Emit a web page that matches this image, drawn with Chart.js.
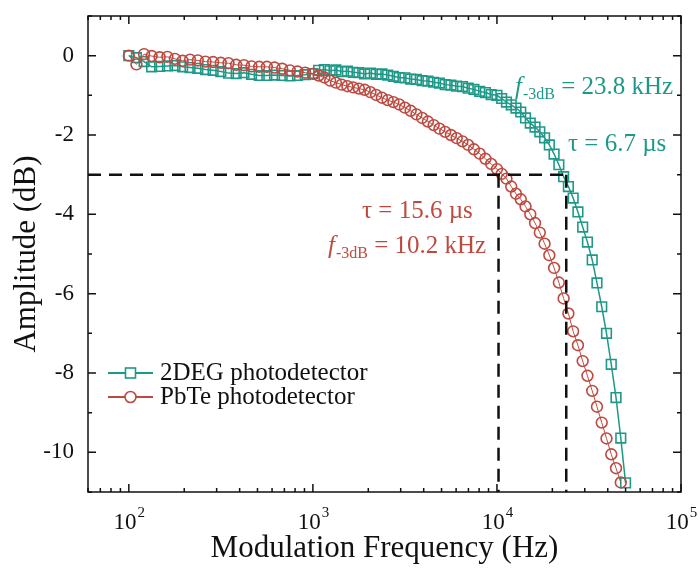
<!DOCTYPE html>
<html>
<head>
<meta charset="utf-8">
<script src="https://cdn.jsdelivr.net/npm/chart.js@4.4.1/dist/chart.umd.min.js"></script>
<style>
  html, body { margin: 0; padding: 0; background: #fff; }
  canvas { display: block; }
</style>
</head>
<body>
<canvas id="chart" width="700" height="568"></canvas>
<script>
// modulation frequencies (Hz), shared by both detectors
const freqHz = [
  100, 110, 121, 133, 147, 162, 178, 196, 215, 237, 261, 287, 316, 348, 383, 422, 464, 511, 562, 619, 681, 750, 825, 909,
  1000, 1075, 1155, 1241, 1334, 1433, 1540, 1655, 1778, 1911, 2054, 2207, 2371, 2548, 2738, 2943, 3162, 3398, 3652, 3924,
  4217, 4532, 4870, 5233, 5623, 6043, 6494, 6978, 7499, 8058, 8660, 9306,
  10000, 10614, 11266, 11958, 12692, 13471, 14298, 15176, 16108, 17097, 18147, 19261, 20444, 21699, 23031, 24445, 25946,
  27539, 29230, 31025, 32930, 34952, 37098, 39376, 41793, 44359, 47083, 49974
];

// amplitude (dB), 2DEG photodetector
const amp2DEG = [
  0.0, -0.05, -0.15, -0.28, -0.27, -0.26, -0.25, -0.28, -0.3, -0.32, -0.35, -0.37, -0.4, -0.44, -0.45, -0.43, -0.47, -0.5,
  -0.5, -0.49, -0.5, -0.51, -0.5, -0.48,
  -0.45, -0.37, -0.35, -0.38, -0.36, -0.4, -0.39, -0.42, -0.43, -0.46, -0.44, -0.47, -0.46, -0.49, -0.52, -0.55, -0.56,
  -0.59, -0.6, -0.63, -0.64, -0.67, -0.69, -0.73, -0.74, -0.77, -0.78, -0.82, -0.85, -0.9, -0.93, -0.98,
  -1.0, -1.08, -1.17, -1.24, -1.32, -1.42, -1.57, -1.7, -1.8, -1.92, -2.07, -2.25, -2.48, -2.75, -3.05, -3.3, -3.59,
  -3.94, -4.32, -4.7, -5.15, -5.73, -6.33, -7.0, -7.78, -8.62, -9.64, -10.77
];

// amplitude (dB), PbTe photodetector (one point shorter)
const ampPbTe = [
  0.0, -0.22, 0.04, -0.01, -0.04, -0.03, -0.08, -0.13, -0.1, -0.12, -0.15, -0.16, -0.18, -0.19, -0.23, -0.24, -0.27, -0.28,
  -0.28, -0.3, -0.33, -0.37, -0.4, -0.43,
  -0.46, -0.5, -0.55, -0.63, -0.68, -0.73, -0.77, -0.8, -0.83, -0.86, -0.92, -0.99, -1.06, -1.12, -1.17, -1.23, -1.31,
  -1.39, -1.48, -1.57, -1.66, -1.75, -1.84, -1.92, -2.0, -2.08, -2.16, -2.25, -2.36, -2.47, -2.6, -2.73,
  -2.86, -2.98, -3.1, -3.3, -3.48, -3.62, -3.8, -4.0, -4.22, -4.46, -4.74, -5.03, -5.35, -5.72, -6.12, -6.5, -6.95,
  -7.3, -7.7, -8.07, -8.45, -8.85, -9.25, -9.65, -10.05, -10.4, -10.76
];

const cutoffPbTe = 10200;   // f-3dB, Hz
const cutoff2DEG = 23800;
const cutoffLevel = -3;     // dB
const xRange = [60, 100000];
const yRange = [-11, 1];
const xTickExps = [2, 3, 4, 5];
const yTickVals = [0, -2, -4, -6, -8, -10];

const TEAL = "#1f9987";
const RED = "#bd4a40";
const SERIF = "'Liberation Serif', 'Times New Roman', serif";

function toPoints(values) {
  return values.map((v, i) => ({ x: freqHz[i], y: v }));
}

const dashStyle = {
  borderColor: "#111",
  borderWidth: 2.5,
  borderDash: [13, 8],
  pointRadius: 0,
  showLine: true,
  fill: false,
  order: 0,
};

const guideLines = [
  [{ x: xRange[0], y: cutoffLevel }, { x: cutoff2DEG, y: cutoffLevel }],
  [{ x: cutoffPbTe, y: cutoffLevel }, { x: cutoffPbTe, y: yRange[0] }],
  [{ x: cutoff2DEG, y: cutoffLevel }, { x: cutoff2DEG, y: yRange[0] }],
];

// frame, inward ticks, labels, legend and notes
const decorPlugin = {
  id: "decor",
  afterDraw(chart) {
    const { ctx, chartArea: a, scales } = chart;
    const xs = scales.x, ys = scales.y;
    ctx.save();
    ctx.strokeStyle = "#111";
    ctx.lineWidth = 1.5;
    ctx.strokeRect(a.left, a.top, a.right - a.left, a.bottom - a.top);

    ctx.beginPath();
    for (let e = 1; e <= 5; e++) {
      for (let m = 1; m <= 9; m++) {
        const v = m * Math.pow(10, e);
        if (v < xRange[0] || v > xRange[1]) continue;
        const px = xs.getPixelForValue(v);
        const len = m === 1 ? 8 : 4;
        ctx.moveTo(px, a.bottom); ctx.lineTo(px, a.bottom - len);
        ctx.moveTo(px, a.top); ctx.lineTo(px, a.top + len);
      }
    }
    for (let v = yRange[0]; v <= yRange[1]; v++) {
      const py = ys.getPixelForValue(v);
      const len = v % 2 === 0 ? 8 : 4;
      ctx.moveTo(a.left, py); ctx.lineTo(a.left + len, py);
      ctx.moveTo(a.right, py); ctx.lineTo(a.right - len, py);
    }
    ctx.stroke();

    // tick labels
    ctx.fillStyle = "#111";
    ctx.textBaseline = "middle";
    ctx.font = `23px ${SERIF}`;
    ctx.textAlign = "right";
    yTickVals.forEach((v) => ctx.fillText(String(v), a.left - 14, ys.getPixelForValue(v)));

    xTickExps.forEach((e) => {
      const px = xs.getPixelForValue(Math.pow(10, e));
      ctx.font = `23px ${SERIF}`;
      const w1 = ctx.measureText("10").width;
      ctx.font = `15px ${SERIF}`;
      const w2 = ctx.measureText(String(e)).width;
      const left = px - (w1 + w2) / 2;
      ctx.textAlign = "left";
      ctx.font = `23px ${SERIF}`;
      ctx.fillText("10", left, 523);
      ctx.font = `15px ${SERIF}`;
      ctx.fillText(String(e), left + w1 + 1, 513);
    });

    // axis titles
    ctx.font = `31px ${SERIF}`;
    ctx.textAlign = "center";
    ctx.fillText("Modulation Frequency (Hz)", (a.left + a.right) / 2, 549);
    ctx.save();
    ctx.translate(27, (a.top + a.bottom) / 2);
    ctx.rotate(-Math.PI / 2);
    ctx.fillText("Amplitude (dB)", 0, 0);
    ctx.restore();

    // legend
    const legend = [
      { label: "2DEG photodetector", color: TEAL, style: "rect", y: 373 },
      { label: "PbTe photodetector", color: RED, style: "circle", y: 397 },
    ];
    legend.forEach((item) => {
      ctx.strokeStyle = item.color;
      ctx.lineWidth = 2;
      ctx.beginPath();
      ctx.moveTo(108, item.y); ctx.lineTo(153, item.y);
      ctx.stroke();
      ctx.fillStyle = "#fff";
      ctx.lineWidth = 1.6;
      if (item.style === "rect") {
        ctx.fillRect(125.5, item.y - 5, 10, 10);
        ctx.strokeRect(125.5, item.y - 5, 10, 10);
      } else {
        ctx.beginPath();
        ctx.arc(130.5, item.y, 5.5, 0, Math.PI * 2);
        ctx.fill(); ctx.stroke();
      }
      ctx.fillStyle = "#111";
      ctx.textAlign = "left";
      ctx.font = `25px ${SERIF}`;
      ctx.fillText(item.label, 160, item.y);
    });

    // cutoff notes
    ctx.textBaseline = "alphabetic";
    const fLabel = (x, base, text, color) => {
      ctx.fillStyle = color;
      ctx.textAlign = "left";
      ctx.font = `italic 25px ${SERIF}`;
      ctx.fillText("f", x, base);
      let cx = x + ctx.measureText("f").width + 1;
      ctx.font = `16px ${SERIF}`;
      ctx.fillText("-3dB", cx, base + 5);
      cx += ctx.measureText("-3dB").width;
      ctx.font = `25px ${SERIF}`;
      ctx.fillText(" = " + text, cx, base);
    };
    const tauLabel = (x, base, text, color) => {
      ctx.fillStyle = color;
      ctx.textAlign = "left";
      ctx.font = `25px ${SERIF}`;
      ctx.fillText("\u03c4 = " + text, x, base);
    };
    fLabel(515, 94, "23.8 kHz", TEAL);
    tauLabel(568, 151, "6.7 \u00b5s", TEAL);
    tauLabel(362, 218, "15.6 \u00b5s", RED);
    fLabel(328, 253, "10.2 kHz", RED);
    ctx.restore();
  },
};

new Chart(document.getElementById("chart"), {
  type: "scatter",
  data: {
    datasets: [
      ...guideLines.map((pts) => ({ ...dashStyle, data: pts })),
      {
        label: "PbTe photodetector",
        data: toPoints(ampPbTe),
        showLine: true,
        borderColor: RED,
        borderWidth: 1,
        pointStyle: "circle",
        pointRadius: 5.4,
        pointBorderWidth: 1.6,
        pointBorderColor: RED,
        pointBackgroundColor: "rgba(0,0,0,0)",
        order: 1,
      },
      {
        label: "2DEG photodetector",
        data: toPoints(amp2DEG),
        showLine: true,
        borderColor: TEAL,
        borderWidth: 1.5,
        pointStyle: "rect",
        pointRadius: 6.8,
        pointBorderWidth: 1.6,
        pointBorderColor: TEAL,
        pointBackgroundColor: "rgba(0,0,0,0)",
        order: 2,
      },
    ],
  },
  options: {
    responsive: false,
    animation: false,
    devicePixelRatio: 1,
    layout: { padding: { left: 88, top: 16, right: 19, bottom: 76 } },
    plugins: { legend: { display: false }, tooltip: { enabled: false } },
    scales: {
      x: { type: "logarithmic", min: xRange[0], max: xRange[1], display: false },
      y: { type: "linear", min: yRange[0], max: yRange[1], display: false },
    },
  },
  plugins: [decorPlugin],
});
</script>
</body>
</html>
